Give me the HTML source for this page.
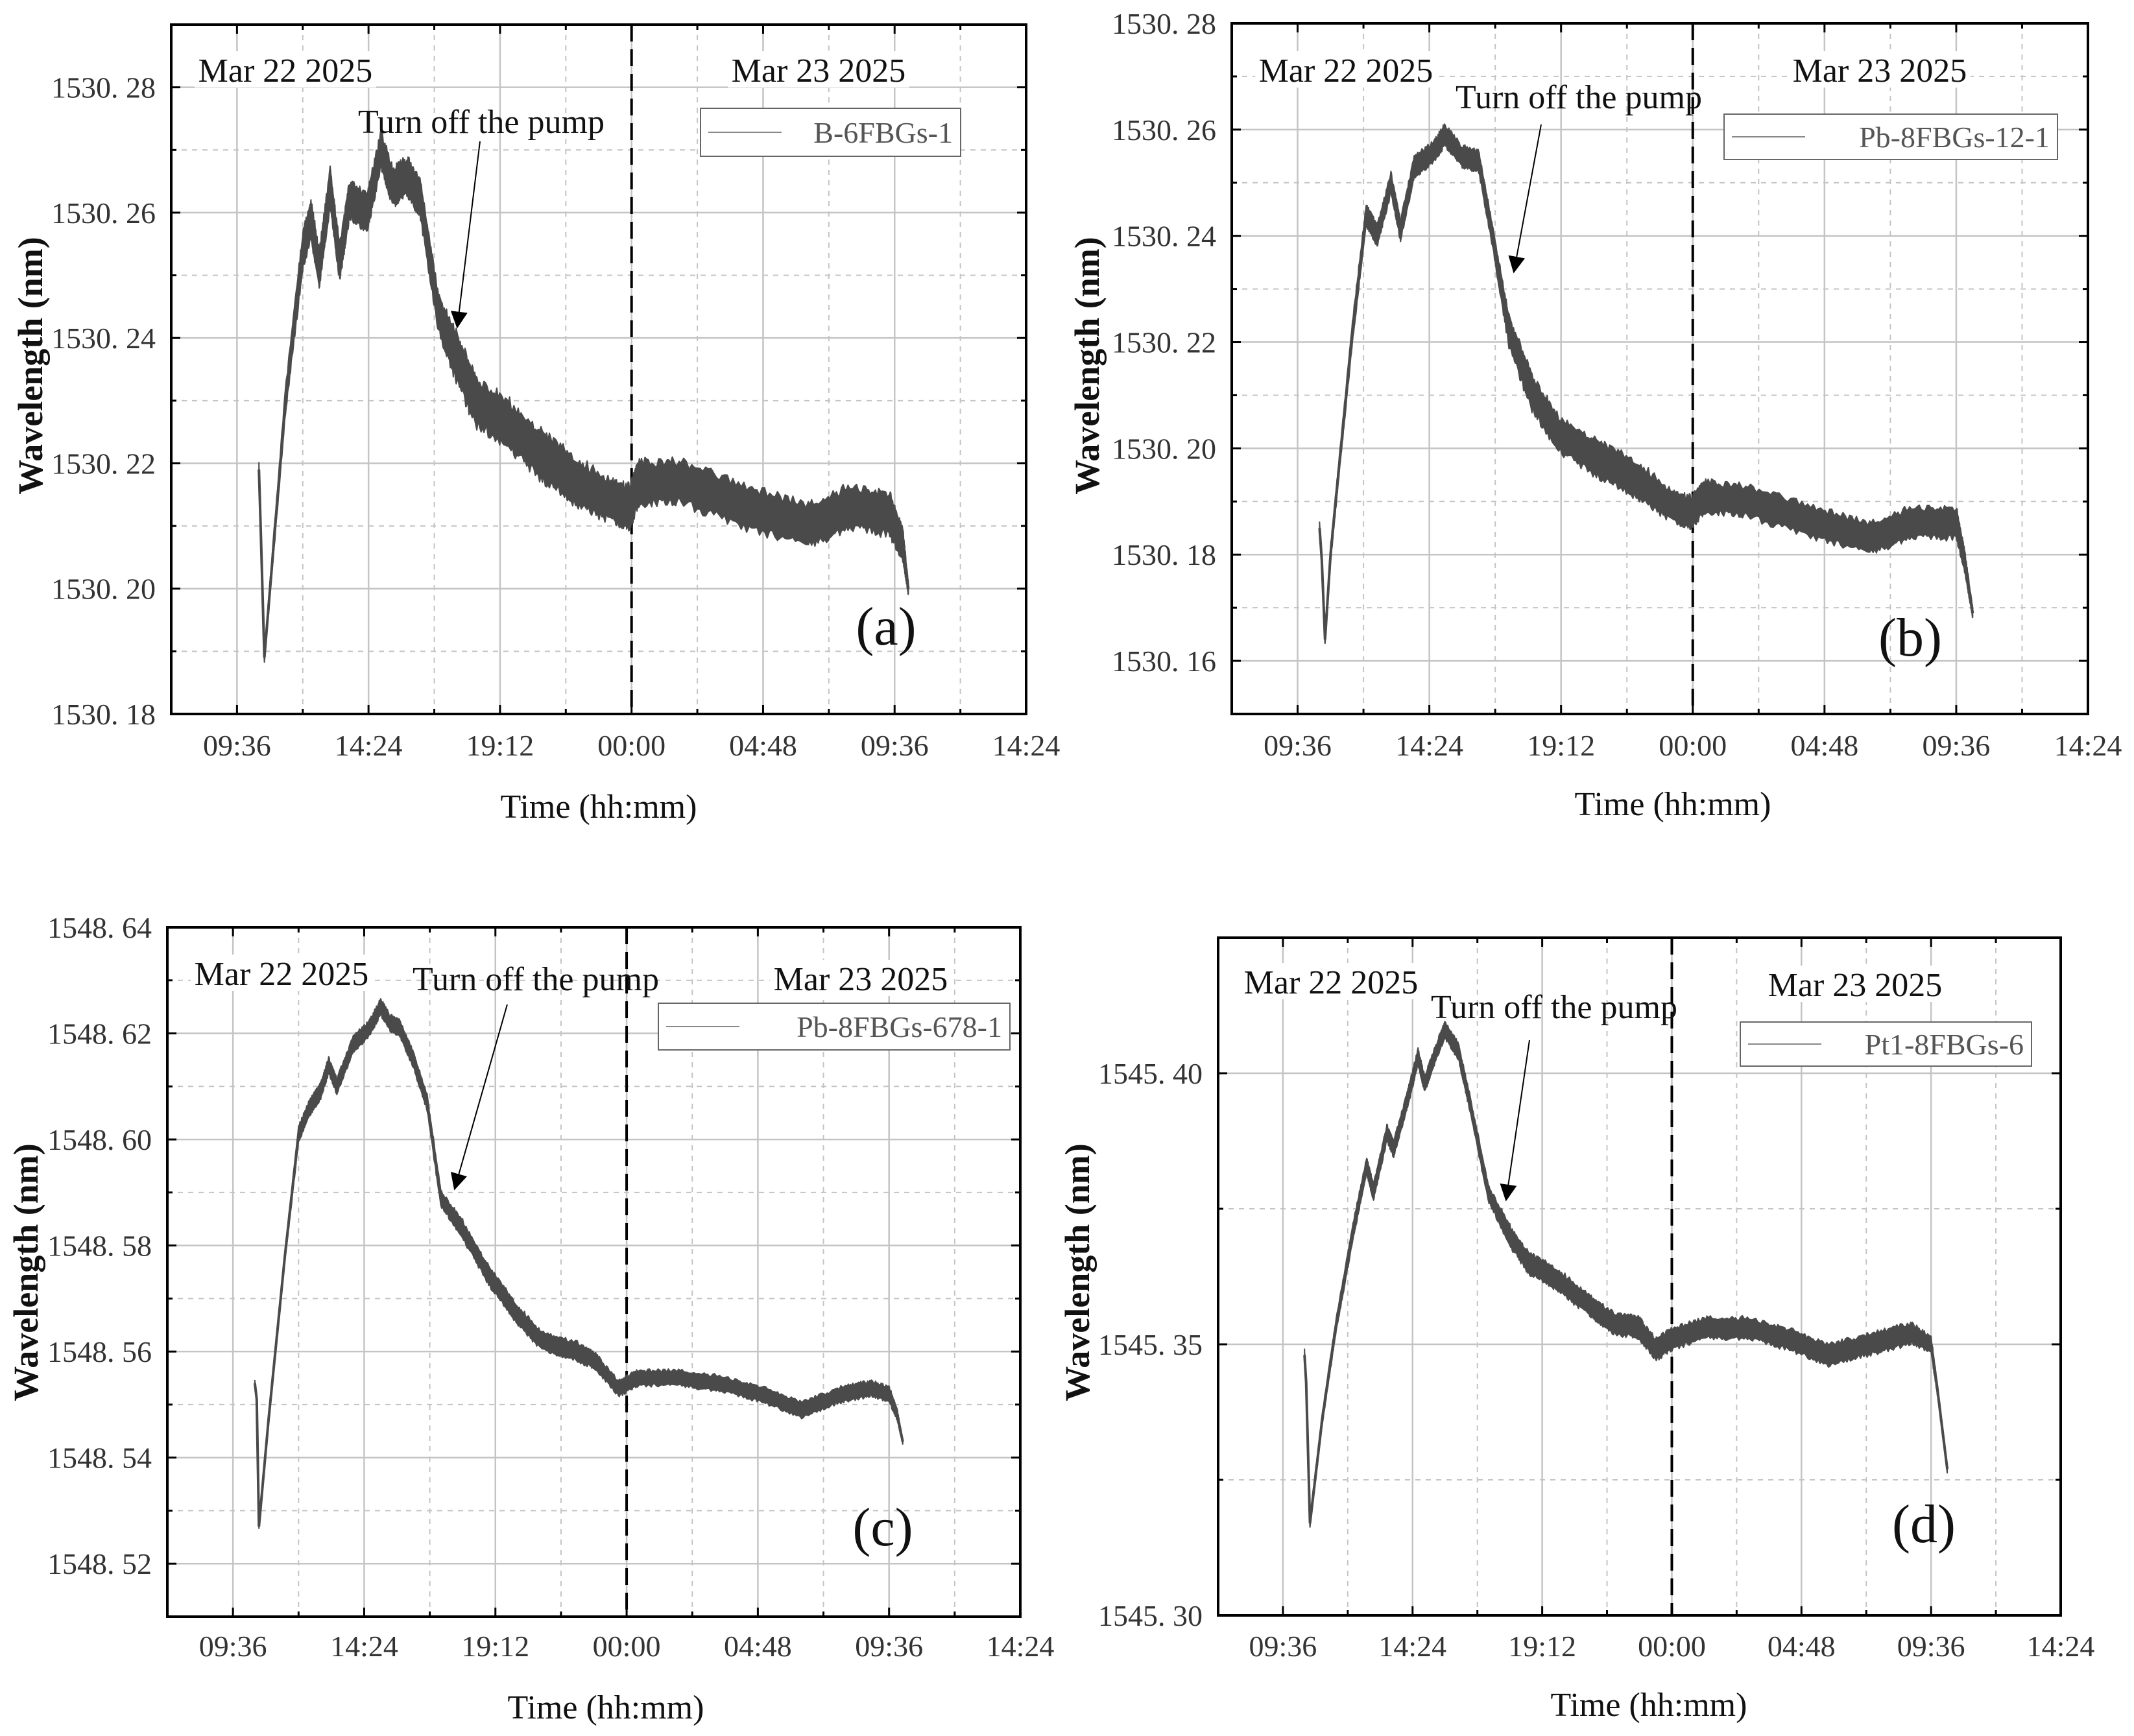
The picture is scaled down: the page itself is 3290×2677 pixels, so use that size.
<!DOCTYPE html>
<html><head><meta charset="utf-8">
<style>
html,body{margin:0;padding:0;background:#fff;}
svg{display:block;}
</style></head>
<body>
<svg id="fig" width="3290" height="2677" viewBox="0 0 3290 2677" xmlns="http://www.w3.org/2000/svg"></svg>
<script>
// ---- data (hours since 00:00 Mar 22; wavelength nm; band half-width nm) ----
const xTickLabels = ["09:36","14:24","19:12","00:00","04:48","09:36","14:24"];

const timesA = [10.40,10.47,10.60,11.37,12.0,12.3,12.6,13.0,13.35,13.7,14.35,14.85,15.3,15.8,16.3,16.95,17.6,18.3,19.55,20.8,22.0,23.3,23.9,24.3,25.8,28.2,30.45,31.9,33.4,33.9,34.1];
const valuesA = [1530.219,1530.209,1530.189,1530.230,1530.254,1530.259,1530.251,1530.264,1530.252,1530.262,1530.260,1530.270,1530.264,1530.266,1530.262,1530.244,1530.237,1530.230,1530.226,1530.221,1530.217,1530.214,1530.213,1530.217,1530.217,1530.213,1530.210,1530.213,1530.212,1530.207,1530.200];
const bandA = [0.001,0.001,0.001,0.002,0.003,0.003,0.003,0.003,0.003,0.003,0.003,0.003,0.003,0.003,0.003,0.003,0.004,0.004,0.004,0.004,0.0038,0.0035,0.0035,0.0035,0.0035,0.0035,0.0035,0.0035,0.0035,0.0025,0.001];
const yTicksA = ["1530. 18","1530. 20","1530. 22","1530. 24","1530. 26","1530. 28"];

const timesB = [10.40,10.48,10.60,10.80,11.1,11.6,12.1,12.5,13.0,13.35,13.85,14.6,14.95,15.6,16.2,16.7,17.3,18.1,19.05,20.55,22.0,23.3,23.9,24.5,26.0,28.5,30.45,31.9,33.6,33.9,34.2];
const valuesB = [1530.185,1530.179,1530.164,1530.180,1530.196,1530.222,1530.244,1530.240,1530.250,1530.241,1530.253,1530.256,1530.259,1530.255,1530.254,1530.240,1530.222,1530.211,1530.203,1530.198,1530.194,1530.189,1530.188,1530.191,1530.190,1530.186,1530.183,1530.186,1530.186,1530.179,1530.169];
const bandB = [0.001,0.001,0.001,0.0015,0.0015,0.002,0.002,0.002,0.002,0.002,0.002,0.002,0.002,0.002,0.002,0.002,0.003,0.0035,0.0035,0.0035,0.0035,0.003,0.003,0.003,0.003,0.003,0.003,0.003,0.003,0.002,0.001];
const yTicksB = ["1530. 16","1530. 18","1530. 20","1530. 22","1530. 24","1530. 26","1530. 28"];

const timesC = [10.40,10.47,10.55,10.9,11.5,12.0,12.4,12.8,13.1,13.4,14.0,14.6,15.0,15.35,15.7,16.2,16.7,17.2,18.0,19.0,20.0,20.9,22.2,22.9,23.7,24.4,25.9,27.4,28.9,30.4,31.9,32.9,33.6,33.9,34.1];
const valuesC = [1548.554,1548.551,1548.527,1548.547,1548.578,1548.601,1548.606,1548.609,1548.614,1548.610,1548.618,1548.621,1548.625,1548.622,1548.621,1548.615,1548.607,1548.589,1548.583,1548.574,1548.567,1548.562,1548.560,1548.558,1548.553,1548.555,1548.555,1548.554,1548.552,1548.549,1548.552,1548.553,1548.552,1548.548,1548.543];
const bandC = [0.0005,0.0005,0.0005,0.001,0.001,0.0015,0.0015,0.0015,0.0015,0.0015,0.0015,0.0015,0.0015,0.0015,0.0015,0.0015,0.0015,0.0015,0.0018,0.0018,0.0018,0.0018,0.0018,0.0015,0.0015,0.0015,0.0015,0.0015,0.0015,0.0015,0.0015,0.0015,0.0015,0.001,0.0005];
const yTicksC = ["1548. 52","1548. 54","1548. 56","1548. 58","1548. 60","1548. 62","1548. 64"];

const timesD = [10.40,10.46,10.60,11.05,11.55,12.2,12.7,12.95,13.45,13.7,14.2,14.6,14.85,15.35,15.6,16.1,16.5,17.2,18.0,18.7,19.75,20.75,21.8,22.8,23.4,24.0,25.3,26.8,28.3,29.8,31.3,32.85,33.6,33.85,34.2];
const valuesD = [1545.348,1545.343,1545.317,1545.336,1545.353,1545.371,1545.383,1545.378,1545.389,1545.386,1545.395,1545.403,1545.398,1545.405,1545.408,1545.404,1545.395,1545.378,1545.370,1545.365,1545.362,1545.358,1545.354,1545.353,1545.349,1545.351,1545.353,1545.353,1545.351,1545.348,1545.350,1545.352,1545.350,1545.341,1545.327];
const bandD = [0.001,0.001,0.001,0.001,0.0012,0.0015,0.0015,0.0015,0.0015,0.0015,0.0015,0.0015,0.0015,0.0015,0.0015,0.0015,0.0015,0.0015,0.002,0.002,0.002,0.002,0.002,0.002,0.002,0.002,0.002,0.002,0.002,0.002,0.002,0.002,0.0015,0.001,0.0008];
const yTicksD = ["1545. 30","1545. 35","1545. 40"];

// ---- layout ----
const NS = "http://www.w3.org/2000/svg";
const svg = document.getElementById("fig");
function mk(tag, attrs, parent, text){
  const e = document.createElementNS(NS, tag);
  for (const k in attrs) e.setAttribute(k, attrs[k]);
  if (text !== undefined) e.textContent = text;
  (parent || svg).appendChild(e);
  return e;
}
// deterministic texture for the noisy band edge (rendering style only)
function tex(i){ const s = Math.sin(i * 12.9898) * 43758.5453; return s - Math.floor(s); }

const panels = [
 {id:"a", L:264,T:38,R:1582,B:1101, ymin:1530.18, ymax:1530.29, major:0.02, minor:0.01, y0:1530.18,
  times:timesA, values:valuesA, band:bandA, yTicks:yTicksA, legend:"B-6FBGs-1",
  titleX:47, titleY:564, timeX:923, timeY:1243, xlabY:1149,
  d1:[440,109], d2:[1262,109], pump:[742,188], arrow:[740,218,705,504],
  leg:[1080,167,1481,241], tag:[1366,966]},
 {id:"b", L:1899,T:36,R:3219,B:1101, ymin:1530.15, ymax:1530.28, major:0.02, minor:0.01, y0:1530.16,
  times:timesB, values:valuesB, band:bandB, yTicks:yTicksB, legend:"Pb-8FBGs-12-1",
  titleX:1676, titleY:564, timeX:2579, timeY:1239, xlabY:1149,
  d1:[2075,109], d2:[2898,109], pump:[2434,150], arrow:[2376,192,2334,419],
  leg:[2658,176,3172,246], tag:[2945,983]},
 {id:"c", L:258,T:1430,R:1573,B:2493, ymin:1548.51, ymax:1548.64, major:0.02, minor:0.01, y0:1548.52,
  times:timesC, values:valuesC, band:bandC, yTicks:yTicksC, legend:"Pb-8FBGs-678-1",
  titleX:40, titleY:1962, timeX:934, timeY:2632, xlabY:2538,
  d1:[434,1502], d2:[1327,1510], pump:[826,1510], arrow:[782,1549,701,1833],
  leg:[1015,1547,1557,1619], tag:[1361,2355]},
 {id:"d", L:1878,T:1446,R:3177,B:2491, ymin:1545.30, ymax:1545.425, major:0.05, minor:0.025, y0:1545.30,
  times:timesD, values:valuesD, band:bandD, yTicks:yTicksD, legend:"Pt1-8FBGs-6",
  titleX:1661, titleY:1962, timeX:2542, timeY:2628, xlabY:2538,
  d1:[2052,1515], d2:[2860,1519], pump:[2396,1553], arrow:[2358,1604,2322,1850],
  leg:[2683,1576,3132,1644], tag:[2966,2350]}
];
const XMIN = 7.2, XMAX = 38.4;
const serif = '"Liberation Serif", serif';

mk("defs",{}).innerHTML = '<marker id="ah" viewBox="0 0 10 10" markerWidth="26" markerHeight="26" refX="9" refY="5" orient="auto" markerUnits="userSpaceOnUse"><path d="M0,0 L10,5 L0,10 z" fill="#000"/></marker>';

panels.forEach(p => {
  const g = mk("g", {});
  
  
  const xs = t => p.L + (t - XMIN) / (XMAX - XMIN) * (p.R - p.L);
  const ys = v => p.B - (v - p.ymin) / (p.ymax - p.ymin) * (p.B - p.T);

  // vertical grid
  for (let t = XMIN; t <= XMAX + 1e-6; t += 2.4) {
    const isMajor = Math.abs(((t - 9.6) / 4.8) - Math.round((t - 9.6) / 4.8)) < 1e-6;
    const x = xs(t);
    if (t > XMIN + 1e-6 && t < XMAX - 1e-6) {
      const gl = mk("line", {x1:x, y1:p.T, x2:x, y2:p.B, stroke:"#c4c4c4", "stroke-width":isMajor?2.5:2, "stroke-dasharray":isMajor?"none":"8,8"}, g);
      
      
    }
    mk("line", {x1:x, y1:p.B, x2:x, y2:p.B - (isMajor?14:8), stroke:"#000", "stroke-width":3}, g);
    mk("line", {x1:x, y1:p.T, x2:x, y2:p.T + (isMajor?14:8), stroke:"#000", "stroke-width":3}, g);
  }
  // horizontal grid
  const nSteps = Math.round((p.ymax - p.ymin) / p.minor);
  for (let i = 0; i <= nSteps; i++) {
    const v = p.ymin + i * p.minor;
    const k = (v - p.y0) / p.major;
    const isMajor = Math.abs(k - Math.round(k)) < 1e-6;
    const y = ys(v);
    if (Math.abs(y - p.T) > 2 && Math.abs(y - p.B) > 2) {
      const gl = mk("line", {x1:p.L, y1:y, x2:p.R, y2:y, stroke:"#c4c4c4", "stroke-width":isMajor?2.5:2, "stroke-dasharray":isMajor?"none":"8,8"}, g);
      
      
    }
    mk("line", {x1:p.L, y1:y, x2:p.L + (isMajor?14:8), y2:y, stroke:"#000", "stroke-width":3}, g);
    mk("line", {x1:p.R, y1:y, x2:p.R - (isMajor?14:8), y2:y, stroke:"#000", "stroke-width":3}, g);
  }
  // y tick labels
  p.yTicks.forEach((lab, i) => {
    const v = p.y0 + i * p.major;
    const tl = mk("text", {x:p.L - 24, y:ys(v) + 16, "text-anchor":"end", "font-family":serif, "font-size":46, fill:"#333"}, g, lab);
    
    
  });
  // x tick labels
  xTickLabels.forEach((lab, i) => {
    const t = 9.6 + i * 4.8;
    const tl = mk("text", {x:xs(t), y:p.xlabY + 16, "text-anchor":"middle", "font-family":serif, "font-size":46, fill:"#333"}, g, lab);
    
    
  });
  // midnight dashed line
  const ml = mk("line", {x1:xs(24), y1:p.T, x2:xs(24), y2:p.B, stroke:"#000", "stroke-width":4, "stroke-dasharray":"26,12"}, g);
  
  

  // series band: interpolate between data points, with a rough textured edge
  let up = [], lo = [];
  let idx = 0;
  const SUB = 24;
  for (let i = 0; i < p.times.length; i++) {
    const nSub = (i < p.times.length - 1) ? SUB : 1;
    for (let s = 0; s < nSub; s++) {
      const f = s / SUB;
      const t = (i < p.times.length - 1) ? p.times[i] + f * (p.times[i+1] - p.times[i]) : p.times[i];
      const v = (i < p.times.length - 1) ? p.values[i] + f * (p.values[i+1] - p.values[i]) : p.values[i];
      const h = (i < p.times.length - 1) ? p.band[i] + f * (p.band[i+1] - p.band[i]) : p.band[i];
      const ru = 0.7 + 0.45 * tex(idx * 2 + 1);
      const rl = 0.7 + 0.45 * tex(idx * 2 + 2);
      idx++;
      up.push(xs(t).toFixed(1) + "," + ys(v + h * ru).toFixed(1));
      lo.unshift(xs(t).toFixed(1) + "," + ys(v - h * rl).toFixed(1));
    }
  }
  const band = mk("polygon", {points: up.concat(lo).join(" "), fill:"#4a4a4a", stroke:"#4a4a4a", "stroke-width":2, "stroke-linejoin":"round"}, g);
  
  
  const line = mk("polyline", {points: p.times.map((t,i)=>xs(t).toFixed(1)+","+ys(p.values[i]).toFixed(1)).join(" "), fill:"none", stroke:"#4a4a4a", "stroke-width":4}, g);
  
  

  // frame
  const fr = mk("rect", {x:p.L, y:p.T, width:p.R - p.L, height:p.B - p.T, fill:"none", stroke:"#000", "stroke-width":4}, g);
  
  

  // date labels
  [[p.d1, "Mar 22 2025"], [p.d2, "Mar 23 2025"]].forEach(([pos, s]) => {
    mk("rect", {x:pos[0] - 140, y:pos[1] - 30, width:280, height:56, fill:"#fff"}, g);
    const tx = mk("text", {x:pos[0], y:pos[1] + 17, "text-anchor":"middle", "font-family":serif, "font-size":52, fill:"#111"}, g, s);
    
    
  });
  // pump annotation
  const pt = mk("text", {x:p.pump[0], y:p.pump[1] + 17, "text-anchor":"middle", "font-family":serif, "font-size":52, fill:"#111"}, g, "Turn off the pump");
  
  
  const ar = mk("line", {x1:p.arrow[0], y1:p.arrow[1], x2:p.arrow[2], y2:p.arrow[3], stroke:"#000", "stroke-width":2, "marker-end":"url(#ah)"}, g);
  
  

  // legend
  const lg = mk("g", {}, g);
  
  
  const [lx1, ly1, lx2, ly2] = p.leg;
  mk("rect", {x:lx1, y:ly1, width:lx2 - lx1, height:ly2 - ly1, fill:"#fff", stroke:"#666", "stroke-width":2}, lg);
  const my = (ly1 + ly2) / 2;
  mk("line", {x1:lx1 + 12, y1:my, x2:lx1 + 125, y2:my, stroke:"#888", "stroke-width":2}, lg);
  const lt = mk("text", {x:lx2 - 12, y:my + 16, "text-anchor":"end", "font-family":serif, "font-size":46, fill:"#555"}, lg, p.legend);
  
  

  // panel tag
  const tg = mk("text", {x:p.tag[0], y:p.tag[1] + 28, "text-anchor":"middle", "font-family":serif, "font-size":84, fill:"#111"}, g, "(" + p.id + ")");
  
  

  // axis titles
  const yt = mk("text", {x:0, y:0, transform:"translate(" + (p.titleX + 18) + "," + p.titleY + ") rotate(-90)", "text-anchor":"middle", "font-family":serif, "font-size":54, "font-weight":"bold", fill:"#111"}, g, "Wavelength (nm)");
  
  
  const xt = mk("text", {x:p.timeX, y:p.timeY + 18, "text-anchor":"middle", "font-family":serif, "font-size":52, fill:"#111"}, g, "Time (hh:mm)");
  
  
});
</script>
</body></html>
